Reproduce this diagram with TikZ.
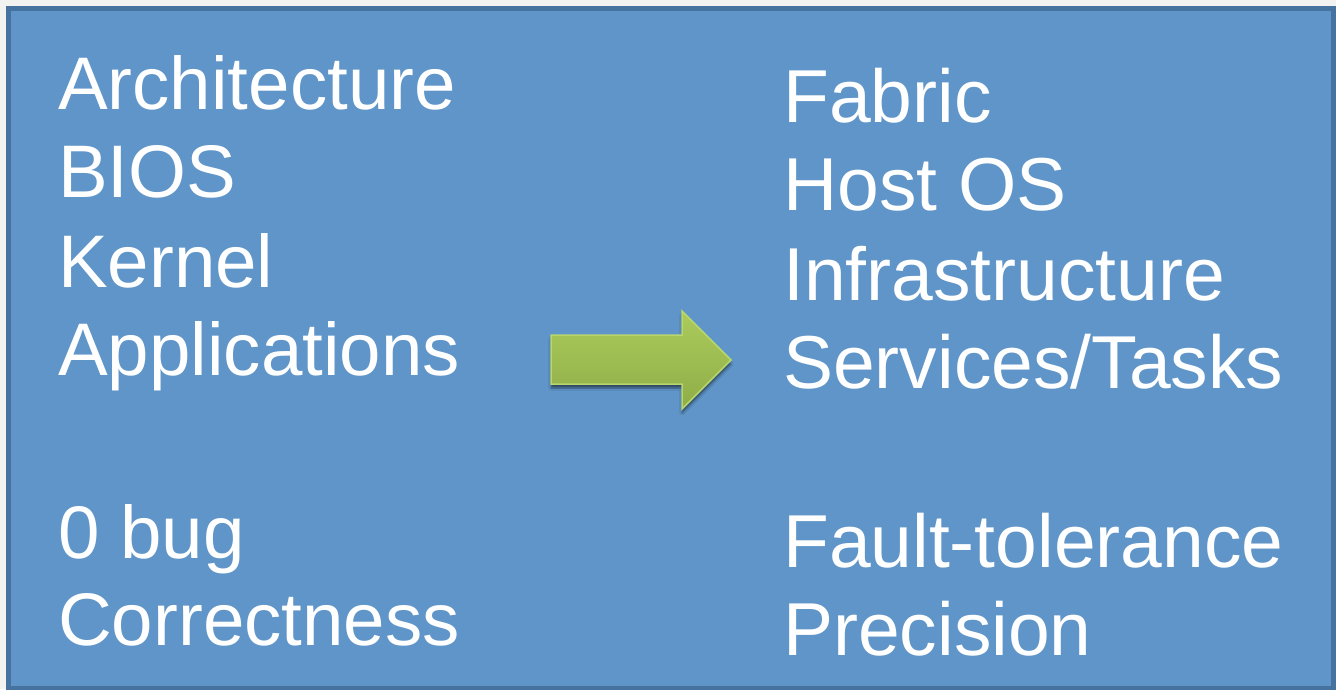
\documentclass[tikz,border=0pt]{standalone}
\usepackage{fontspec}
\setmainfont{Liberation Sans}
\usetikzlibrary{shadows.blur}
\definecolor{pagebg}{HTML}{F2F2F0}
\definecolor{boxfill}{HTML}{5F95C8}
\definecolor{boxline}{HTML}{45729F}
\definecolor{arrowtop}{HTML}{ABCB5C}
\definecolor{arrowbot}{HTML}{8FAD47}
\definecolor{arrowline}{HTML}{B8D66C}
\tikzset{
  x=1pt, y=-1pt,
  item/.style={anchor=base west, inner sep=0pt, text=white,
    font=\fontsize{74.5}{88}\selectfont},
  itemr/.style={item, font=\fontsize{75}{88}\selectfont},
}
\begin{document}
\begin{tikzpicture}
% page and framed panel
\fill[pagebg] (0,0) rectangle (1336,689);
\useasboundingbox (0,0) rectangle (1336,689);
\draw[boxline, line width=5pt, fill=boxfill] (8.5,8.5) rectangle (1333.5,688);
% left column
\node[item] (arch) at (58,109) {Architecture};
\node[item] (bios) at (58,197) {BIOS};
\node[item] (kern) at (58,287) {Kernel};
\node[item] (apps) at (58,375) {Applications};
\node[item] (bug)  at (58,558) {0 bug};
\node[item] (corr) at (58,645) {Correctness};
% right column
\node[itemr] (fab)  at (783,122) {Fabric};
\node[itemr] (host) at (783,210) {Host OS};
\node[itemr] (infra) at (783,300) {Infrastructure};
\node[itemr] (serv) at (783,388) {Services/Tasks};
\node[itemr] (fault) at (783,567) {Fault-tolerance};
\node[itemr] (prec) at (783,655) {Precision};
% block arrow
\shade[top color=arrowtop, bottom color=arrowbot, draw=arrowline, line width=1.5pt,
  blur shadow={shadow xshift=0pt, shadow yshift=-4pt, shadow blur steps=6, shadow opacity=50}]
  (551,335) -- (682,335) -- (682,311) -- (731,360) -- (682,409) -- (682,384) -- (551,384) -- cycle;
\end{tikzpicture}
\end{document}
